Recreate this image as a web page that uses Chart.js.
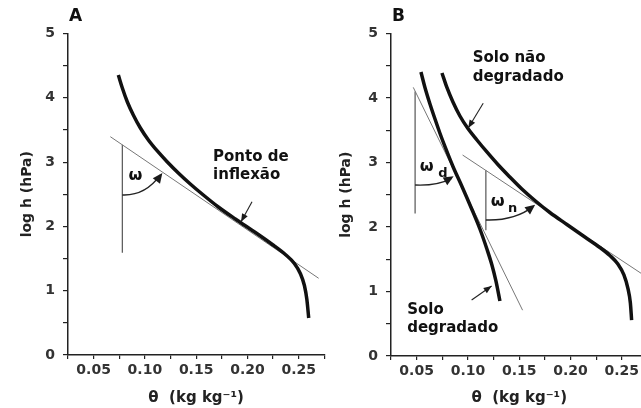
<!DOCTYPE html>
<html>
<head>
<meta charset="utf-8">
<script src="https://cdn.jsdelivr.net/npm/chart.js@4.4.1/dist/chart.umd.min.js"></script>
<style>
  html, body { margin: 0; padding: 0; background: #fff; width: 641px; height: 408px; overflow: hidden; }
  canvas { position: absolute; top: 0; }
</style>
</head>
<body>
<canvas id="chartA" width="350" height="408" style="left:0"></canvas>
<canvas id="chartB" width="330" height="408" style="left:330px"></canvas>
<script>
// theta (kg/kg) vs log h (hPa)

// Panel A - retention curve with its tangent at the inflection point
const curveA_x = [0.0741, 0.0780, 0.0829, 0.0887, 0.0956, 0.1034, 0.1121, 0.1219, 0.1326, 0.1443, 0.1570,
                  0.1716, 0.1882, 0.2078, 0.2243, 0.2370, 0.2458, 0.2516, 0.2556, 0.2580, 0.2598];
const curveA_y = [4.355, 4.152, 3.935, 3.733, 3.530, 3.344, 3.173, 3.002, 2.831, 2.660, 2.488,
                  2.302, 2.115, 1.905, 1.719, 1.563, 1.423, 1.268, 1.081, 0.863, 0.575];
const tangentA_x = [0.0663, 0.2695];
const tangentA_y = [3.395, 1.193];
const verticalA_x = [0.078, 0.078];
const verticalA_y = [1.59, 3.268];

// Panel B - non-degraded (N) and degraded (D) soil
const curveN_x = [0.0747, 0.0795, 0.0854, 0.0922, 0.1000, 0.1088, 0.1185, 0.1292, 0.1409, 0.1526, 0.1653,
                  0.1799, 0.1965, 0.2140, 0.2287, 0.2384, 0.2462, 0.2521, 0.2560, 0.2584, 0.2596];
const curveN_y = [4.388, 4.163, 3.938, 3.721, 3.527, 3.349, 3.163, 2.969, 2.775, 2.589, 2.411,
                  2.225, 2.039, 1.845, 1.682, 1.558, 1.426, 1.256, 1.047, 0.822, 0.558];
const curveD_x = [0.0542, 0.0581, 0.0630, 0.0679, 0.0728, 0.0787, 0.0854, 0.0942, 0.1039, 0.1117, 0.1185, 0.1234, 0.1273, 0.1312];
const curveD_y = [4.403, 4.163, 3.907, 3.674, 3.450, 3.202, 2.938, 2.628, 2.271, 1.969, 1.659, 1.411, 1.163, 0.853];
const tangentN_x = [0.0948, 0.27];
const tangentN_y = [3.116, 1.27];
const tangentD_x = [0.0467, 0.1533];
const tangentD_y = [4.165, 0.71];
const verticalN_x = [0.1175, 0.1175];
const verticalN_y = [1.95, 2.88];
const verticalD_x = [0.0485, 0.0485];
const verticalD_y = [2.21, 4.10];

// axes
const xMin = 0.025, xMax = 0.275, xStep = 0.025;
const yMin = 0, yMax = 5, yStep = 0.5;

const FONT = "'DejaVu Sans', 'Liberation Sans', sans-serif";

function pts(xs, ys) {
    return xs.map((x, i) => ({ x: x, y: ys[i] }));
}

function curve(xs, ys) {
    return { data: pts(xs, ys), borderColor: '#111', borderWidth: 3.5, cubicInterpolationMode: 'monotone',
             pointRadius: 0, showLine: true, borderCapStyle: 'butt' };
}

function thin(xs, ys, color, w) {
    return { data: pts(xs, ys), borderColor: color, borderWidth: w, tension: 0,
             pointRadius: 0, showLine: true };
}

function arrowHead(ctx, tx, ty, fx, fy, len, half) {
    const a = Math.atan2(ty - fy, tx - fx);
    ctx.beginPath();
    ctx.moveTo(tx, ty);
    ctx.lineTo(tx - len * Math.cos(a) + half * Math.sin(a), ty - len * Math.sin(a) - half * Math.cos(a));
    ctx.lineTo(tx - len * Math.cos(a) - half * Math.sin(a), ty - len * Math.sin(a) + half * Math.cos(a));
    ctx.closePath();
    ctx.fill();
}

// annotations: angle arcs, pointer arrows, text
function extras(cfg) {
    return {
        id: 'extras',
        afterDatasetsDraw(chart) {
            const { ctx, chartArea, scales: { x, y } } = chart;
            const px = v => x.getPixelForValue(v);
            const py = v => y.getPixelForValue(v);
            ctx.save();
            ctx.fillStyle = '#1a1a1a';
            ctx.strokeStyle = '#222';

            cfg.arcs.forEach(a => {
                const sx = px(a.from[0]), sy = py(a.from[1]);
                const ex = px(a.to[0]), ey = py(a.to[1]);
                const cx = sx + 0.6 * (ex - sx), cy = sy + 1;
                ctx.lineWidth = 1.4;
                ctx.beginPath();
                ctx.moveTo(sx, sy);
                ctx.quadraticCurveTo(cx, cy, ex, ey);
                ctx.stroke();
                arrowHead(ctx, ex + 2, ey - 2, cx, cy, 10, 4.5);
            });

            cfg.arrows.forEach(a => {
                const sx = px(a.from[0]), sy = py(a.from[1]);
                const ex = px(a.to[0]), ey = py(a.to[1]);
                ctx.lineWidth = 1.1;
                ctx.beginPath();
                ctx.moveTo(sx, sy);
                ctx.lineTo(ex, ey);
                ctx.stroke();
                arrowHead(ctx, ex, ey, sx, sy, 8, 3.2);
            });

            ctx.fillStyle = '#111';
            ctx.textBaseline = 'middle';
            cfg.labels.forEach(l => {
                ctx.font = 'bold ' + l.size + 'px ' + FONT;
                ctx.textAlign = l.align || 'left';
                ctx.fillText(l.text, px(l.at[0]), py(l.at[1]));
            });

            ctx.font = 'bold 17px ' + FONT;
            ctx.textAlign = 'left';
            ctx.fillText(cfg.letter, chartArea.left + 1, 17);
            ctx.restore();
        }
    };
}

function makeChart(id, datasets, box, cfg) {
    return new Chart(document.getElementById(id), {
        type: 'scatter',
        data: { datasets: datasets },
        options: {
            responsive: false,
            animation: false,
            layout: { padding: { top: 33.5, right: box.right, bottom: 0, left: 0 } },
            plugins: { legend: { display: false }, tooltip: { enabled: false } },
            scales: {
                x: {
                    type: 'linear', min: xMin, max: xMax,
                    afterFit: s => { s.height = box.xh; },
                    ticks: {
                        stepSize: xStep, autoSkip: false, maxRotation: 0, padding: 3, color: '#333',
                        font: { family: FONT, size: 14, weight: 'bold' },
                        callback: v => Math.round(v * 1000) % 50 === 0 ? v.toFixed(2) : ''
                    },
                    grid: { drawOnChartArea: false, drawTicks: true, tickLength: 4, color: '#222', lineWidth: 1.2 },
                    border: { display: true, color: '#222', width: 1.5 },
                    title: {
                        display: true, text: 'θ  (kg kg⁻¹)', color: '#222',
                        font: { family: FONT, size: 15, weight: 'bold' },
                        padding: { top: 0, bottom: 1 }
                    }
                },
                y: {
                    type: 'linear', min: yMin, max: yMax,
                    afterFit: s => { s.width = box.yw; },
                    ticks: {
                        stepSize: yStep, autoSkip: false, padding: 8, color: '#333',
                        font: { family: FONT, size: 14, weight: 'bold' },
                        callback: v => Math.abs(v - Math.round(v)) < 1e-6 ? String(Math.round(v)) : ''
                    },
                    grid: { drawOnChartArea: false, drawTicks: true, tickLength: 5, color: '#222', lineWidth: 1.2 },
                    border: { display: true, color: '#222', width: 1.5 },
                    title: {
                        display: true, text: 'log h (hPa)', color: '#222',
                        font: { family: FONT, size: 14, weight: 'bold' },
                        padding: { top: box.titlePad, bottom: 0 }
                    }
                }
            }
        },
        plugins: [extras(cfg)]
    });
}

makeChart('chartA', [
    curve(curveA_x, curveA_y),
    thin(tangentA_x, tangentA_y, '#777', 1),
    thin(verticalA_x, verticalA_y, '#555', 1.2)
], { right: 25.7, xh: 53, yw: 68, titlePad: 18.6 }, {
    letter: 'A',
    arcs: [ { from: [0.078, 2.488], to: [0.1151, 2.80] } ],
    arrows: [ { from: [0.2045, 2.384], to: [0.1938, 2.073] } ],
    labels: [
        { text: 'Ponto de', at: [0.1665, 3.07], size: 15 },
        { text: 'inflexão', at: [0.1665, 2.79], size: 15 },
        { text: 'ω', at: [0.0907, 2.78], size: 16, align: 'center' }
    ]
});

makeChart('chartB', [
    curve(curveN_x, curveN_y),
    curve(curveD_x, curveD_y),
    thin(tangentN_x, tangentN_y, '#777', 1),
    thin(tangentD_x, tangentD_y, '#777', 1),
    thin(verticalN_x, verticalN_y, '#555', 1.2),
    thin(verticalD_x, verticalD_y, '#555', 1.2)
], { right: 12.6, xh: 52, yw: 61, titlePad: 8.3 }, {
    letter: 'B',
    arcs: [
        { from: [0.0485, 2.651], to: [0.0841, 2.755] },
        { from: [0.1175, 2.109], to: [0.1636, 2.315] }
    ],
    arrows: [
        { from: [0.1149, 3.918], to: [0.1003, 3.535] },
        { from: [0.1036, 0.868], to: [0.1231, 1.085] }
    ],
    labels: [
        { text: 'Solo não', at: [0.1046, 4.62], size: 15 },
        { text: 'degradado', at: [0.1046, 4.33], size: 15 },
        { text: 'Solo', at: [0.0408, 0.713], size: 15 },
        { text: 'degradado', at: [0.0408, 0.43], size: 15 },
        { text: 'ω', at: [0.0597, 2.935], size: 16, align: 'center' },
        { text: 'd', at: [0.0756, 2.833], size: 13, align: 'center' },
        { text: 'ω', at: [0.129, 2.392], size: 16, align: 'center' },
        { text: 'n', at: [0.1436, 2.29], size: 13, align: 'center' }
    ]
});
</script>
</body>
</html>
